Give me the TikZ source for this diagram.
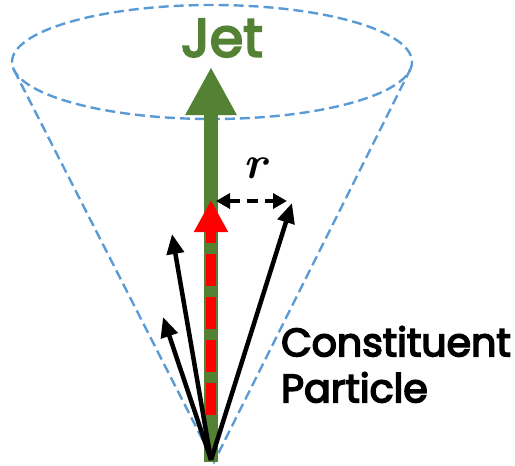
\documentclass[tikz,border=0pt]{standalone}
\usepackage{fontspec}
\setsansfont{Poppins}[FakeBold=4]
\usetikzlibrary{arrows.meta}
\definecolor{jetgreen}{RGB}{84,130,53}
\definecolor{coneblue}{RGB}{91,155,213}
\begin{document}
\begin{tikzpicture}[x=1pt,y=-1pt,
  cone/.style={draw=coneblue,line width=2.4pt,dash pattern=on 10pt off 5pt},
  jetarrow/.style={draw=jetgreen,line width=14pt,-{Triangle[length=48pt,width=48pt]}},
  partarrow/.style={draw=red,line width=10pt,dash pattern=on 32pt off 11pt,-{Triangle[length=32pt,width=32pt]}},
  constarrow/.style={draw=black,line width=4.5pt,-{Triangle[length=20pt,width=17pt]}},
  rarrow/.style={draw=black,line width=3.5pt,dash pattern=on 11pt off 7pt,{Triangle[length=14pt,width=15pt]}-{Triangle[length=14pt,width=15pt]}},
  lbl/.style={inner sep=0pt}]
\useasboundingbox (0,0) rectangle (515,466);
% cone
\coordinate (apex) at (214,462);
\coordinate (tl) at (14,70);
\coordinate (tr) at (410,70);
\draw[cone] (212,62) ellipse [x radius=200, y radius=57];
\draw[cone] (tl) -- (apex) -- (tr);
% jet arrow
\coordinate (jb) at (211,462);
\coordinate (jt) at (211,67);
\draw[jetarrow] (jb) -- (jt);
% particle arrow
\coordinate (pb) at (211,415);
\coordinate (pt) at (211,200);
\draw[partarrow] (pb) -- (pt);
% constituents
\coordinate (o) at (211,460);
\coordinate (c1) at (172,234);
\coordinate (c2) at (163,317);
\coordinate (c3) at (292,203);
\draw[constarrow] (o) -- (c1);
\draw[constarrow] (o) -- (c2);
\draw[constarrow] (o) -- (c3);
% r
\coordinate (ra) at (216,201);
\coordinate (rb) at (287,201);
\draw[rarrow] (ra) -- (rb);
\node[lbl,font=\rmfamily\bfseries\itshape\fontsize{46}{46}\selectfont] (r) at (255,168) {r};
% labels
\node[lbl,text=jetgreen,font=\sffamily\fontsize{54}{54}\selectfont] (jet) at (222,38) {Jet};
\node[lbl,align=left,anchor=north west,font=\sffamily\fontsize{39.5}{46}\selectfont] (cp) at (281,326) {Constituent\\Particle};
\end{tikzpicture}
\end{document}
